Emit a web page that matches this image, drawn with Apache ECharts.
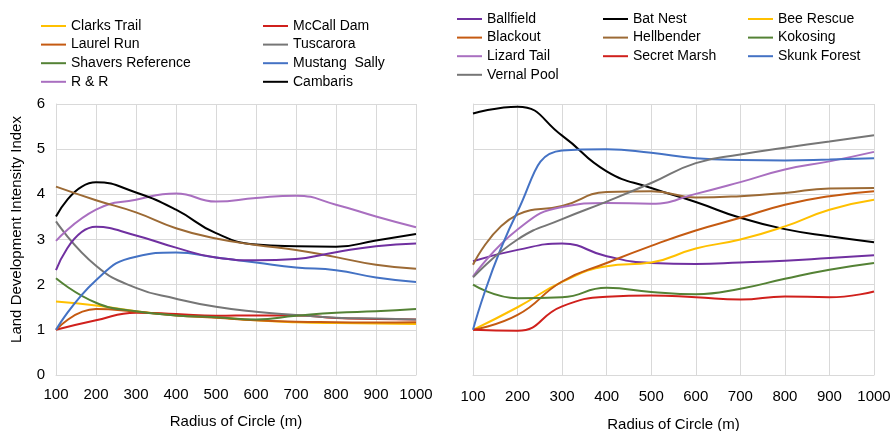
<!DOCTYPE html>
<html>
<head>
<meta charset="utf-8">
<script src="https://cdn.jsdelivr.net/npm/echarts@6/dist/echarts.min.js"></script>
<style>html,body{margin:0;padding:0;background:#fff}#c{width:892px;height:431px}</style>
</head>
<body>
<div id="c"></div>
<script>
// ---- data ----
const radius = [100, 200, 300, 400, 500, 600, 700, 800, 900, 1000];
const yTicks = [0, 1, 2, 3, 4, 5, 6];

// left panel
const clarksTrail   = [1.63, 1.54, 1.41, 1.33, 1.28, 1.21, 1.17, 1.15, 1.14, 1.13];
const mccallDam     = [1.00, 1.21, 1.38, 1.35, 1.31, 1.32, 1.32, 1.26, 1.24, 1.23];
const laurelRun     = [1.00, 1.46, 1.40, 1.32, 1.27, 1.21, 1.18, 1.17, 1.16, 1.17];
const tuscarora     = [3.40, 2.42, 1.93, 1.69, 1.51, 1.40, 1.33, 1.27, 1.25, 1.23];
const shaversRef    = [2.14, 1.60, 1.41, 1.32, 1.28, 1.23, 1.31, 1.38, 1.41, 1.46];
const mustangSally  = [1.00, 2.10, 2.62, 2.71, 2.60, 2.49, 2.38, 2.32, 2.16, 2.06];
const rAndR         = [2.97, 3.66, 3.88, 4.02, 3.84, 3.92, 3.97, 3.77, 3.51, 3.27];
const cambaris      = [3.51, 4.27, 4.04, 3.66, 3.14, 2.89, 2.85, 2.84, 2.98, 3.12];
const unlabeledBrown  = [4.17, 3.87, 3.60, 3.25, 3.02, 2.88, 2.77, 2.61, 2.44, 2.35];
const unlabeledPurple = [2.32, 3.28, 3.09, 2.82, 2.60, 2.54, 2.57, 2.72, 2.85, 2.91];

// right panel
const ballfield     = [2.52, 2.77, 2.91, 2.63, 2.48, 2.46, 2.49, 2.53, 2.59, 2.65];
const batNest       = [5.79, 5.94, 5.30, 4.51, 4.14, 3.83, 3.48, 3.23, 3.07, 2.94];
const beeRescue     = [1.00, 1.50, 2.06, 2.41, 2.49, 2.80, 3.00, 3.29, 3.66, 3.88];
const blackout      = [1.00, 1.33, 2.07, 2.48, 2.86, 3.20, 3.48, 3.77, 3.96, 4.07];
const hellbender    = [2.44, 3.55, 3.74, 4.05, 4.07, 3.93, 3.96, 4.03, 4.13, 4.14];
const kokosing      = [2.00, 1.70, 1.72, 1.93, 1.84, 1.79, 1.91, 2.13, 2.33, 2.48];
const lizardTail    = [2.18, 3.22, 3.72, 3.81, 3.79, 4.01, 4.27, 4.55, 4.73, 4.94];
const secretMarsh   = [1.00, 0.98, 1.52, 1.73, 1.76, 1.72, 1.67, 1.74, 1.72, 1.85];
const skunkForest   = [1.00, 3.62, 4.97, 5.00, 4.92, 4.80, 4.76, 4.75, 4.77, 4.80];
const vernalPool    = [2.16, 3.00, 3.45, 3.84, 4.25, 4.69, 4.88, 5.03, 5.17, 5.31];

const leftLegendCol1 = ['Clarks Trail', 'Laurel Run', 'Shavers Reference', 'R & R'];
const leftLegendCol2 = ['McCall Dam', 'Tuscarora', 'Mustang  Sally', 'Cambaris'];
const rightLegendCol1 = ['Ballfield', 'Blackout', 'Lizard Tail', 'Vernal Pool'];
const rightLegendCol2 = ['Bat Nest', 'Hellbender', 'Secret Marsh'];
const rightLegendCol3 = ['Bee Rescue', 'Kokosing', 'Skunk Forest'];

const C = {
  yellow: '#FFC000', red: '#D0201C', orange: '#C55A11', gray: '#767676',
  green: '#548235', blue: '#4472C4', lilac: '#A96FC0', black: '#000000',
  brown: '#9C6A35', purple: '#7030A0'
};

function mk(name, vals, color, idx) {
  return {
    name: name, type: 'line', xAxisIndex: idx, yAxisIndex: idx,
    data: radius.map((r, i) => [r, vals[i]]),
    smooth: 0.5, symbol: 'none', showSymbol: false,
    lineStyle: { width: 2, color: color }, itemStyle: { color: color },
    emphasis: { disabled: true }
  };
}

const series = [
  mk('Clarks Trail', clarksTrail, C.yellow, 0),
  mk('McCall Dam', mccallDam, C.red, 0),
  mk('Laurel Run', laurelRun, C.orange, 0),
  mk('Tuscarora', tuscarora, C.gray, 0),
  mk('Shavers Reference', shaversRef, C.green, 0),
  mk('Mustang  Sally', mustangSally, C.blue, 0),
  mk('R & R', rAndR, C.lilac, 0),
  mk('Cambaris', cambaris, C.black, 0),
  mk('Unlabeled (brown)', unlabeledBrown, C.brown, 0),
  mk('Unlabeled (purple)', unlabeledPurple, C.purple, 0),

  mk('Ballfield', ballfield, C.purple, 1),
  mk('Bat Nest', batNest, C.black, 1),
  mk('Bee Rescue', beeRescue, C.yellow, 1),
  mk('Blackout', blackout, C.orange, 1),
  mk('Hellbender', hellbender, C.brown, 1),
  mk('Kokosing', kokosing, C.green, 1),
  mk('Lizard Tail', lizardTail, C.lilac, 1),
  mk('Secret Marsh', secretMarsh, C.red, 1),
  mk('Skunk Forest', skunkForest, C.blue, 1),
  mk('Vernal Pool', vernalPool, C.gray, 1)
];

const FONT = '"Liberation Sans", Arial, sans-serif';
function legend(names, left, top) {
  return {
    data: names, orient: 'vertical', left: left, top: top,
    icon: 'rect', itemWidth: 25, itemHeight: 2, itemGap: 2.6, padding: 0,
    selectedMode: false,
    textStyle: { fontFamily: FONT, fontSize: 14, color: '#000', lineHeight: 16 }
  };
}

function xAx(idx, nameGap, margin) {
  return {
    gridIndex: idx, type: 'value', min: 100, max: 1000, interval: 100,
    name: 'Radius of Circle (m)', nameLocation: 'middle', nameGap: nameGap,
    nameTextStyle: { fontFamily: FONT, fontSize: 15, color: '#000' },
    axisLine: { show: true, lineStyle: { color: '#D9D9D9', width: 1 } },
    axisTick: { show: false },
    axisLabel: { fontFamily: FONT, fontSize: 15, color: '#000', margin: margin,
                 formatter: v => String(v) },
    splitLine: { show: true, lineStyle: { color: '#D9D9D9', width: 1 } }
  };
}
function yAx(idx, showLabels) {
  const a = {
    gridIndex: idx, type: 'value', min: yTicks[0], max: yTicks[yTicks.length - 1], interval: 1,
    axisLine: { show: true, lineStyle: { color: '#D9D9D9', width: 1 } },
    axisTick: { show: false },
    axisLabel: { show: showLabels, fontFamily: FONT, fontSize: 15, color: '#000', margin: 11 },
    splitLine: { show: true, lineStyle: { color: '#D9D9D9', width: 1 } }
  };
  if (showLabels) {
    a.name = 'Land Development Intensity Index';
    a.nameLocation = 'middle';
    a.nameGap = 32;
    a.nameTextStyle = { fontFamily: FONT, fontSize: 15, color: '#000', padding: [0, 0, 0, 20] };
  }
  return a;
}

const chart = echarts.init(document.getElementById('c'), null, { renderer: 'canvas' });
chart.setOption({
  animation: false,
  backgroundColor: '#fff',
  legend: [
    legend(leftLegendCol1, 41, 18),
    legend(leftLegendCol2, 263, 18),
    legend(rightLegendCol1, 457, 11),
    legend(rightLegendCol2, 603, 11),
    legend(rightLegendCol3, 748, 11)
  ],
  grid: [
    { left: 56, right: 476, top: 104, bottom: 56, containLabel: false, outerBoundsMode: 'none' },
    { left: 473, right: 18, top: 104, bottom: 56, containLabel: false, outerBoundsMode: 'none' }
  ],
  xAxis: [xAx(0, 39, 12), xAx(1, 42, 14)],
  yAxis: [yAx(0, true), yAx(1, false)],
  series: series
});
</script>
</body>
</html>
